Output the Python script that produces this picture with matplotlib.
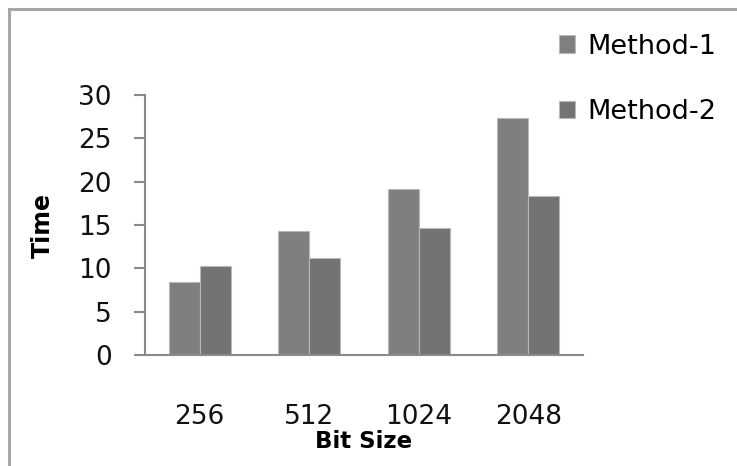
import numpy as np
import matplotlib.pyplot as plt
from matplotlib.lines import Line2D

# timing results per key size
bit_sizes = ["256", "512", "1024", "2048"]
method_1 = [8.4, 14.3, 19.2, 27.3]
method_2 = [10.3, 11.2, 14.6, 18.3]
series_names = ["Method-1", "Method-2"]

W, H = 737, 466
plt.rcParams['font.family'] = ['DejaVu Sans']

fig = plt.figure(figsize=(W / 100, H / 100), dpi=100)
ax = fig.add_axes([145 / W, (H - 355) / H, (583 - 145) / W, (355 - 95) / H])

x = np.arange(len(bit_sizes))
bw = 0.285
ax.bar(x - bw / 2, method_1, bw, color='#7f7f7f', edgecolor='#b8b8b8',
       linewidth=0.8, label=series_names[0])
ax.bar(x + bw / 2, method_2, bw, color='#737373', edgecolor='#b8b8b8',
       linewidth=0.8, label=series_names[1])

ax.set_xlim(-0.5, len(bit_sizes) - 0.5)
ax.set_ylim(0, 30)
ax.set_yticks(range(0, 31, 5))
ax.set_xticks(x)
ax.set_xticklabels(bit_sizes)

for s in ['top', 'right']:
    ax.spines[s].set_visible(False)
for s in ['left', 'bottom']:
    ax.spines[s].set_color('#8a8a8a')
    ax.spines[s].set_linewidth(1.5)

ax.tick_params(axis='y', length=8, width=1.5, color='#8a8a8a', pad=16,
               labelsize=19, labelcolor='#111111')
ax.tick_params(axis='x', length=0, pad=35, labelsize=19, labelcolor='#111111')

ax.set_ylabel("Time", fontsize=17, fontweight='bold', labelpad=17)
ax.set_xlabel("Bit Size", fontsize=16.5, fontweight='bold', labelpad=0)

ax.legend(loc='upper left', bbox_to_anchor=(545 / W, 1 - 20 / H),
          bbox_transform=fig.transFigure, frameon=False, fontsize=19.5,
          handlelength=0.6, handleheight=0.6, handletextpad=0.45,
          labelspacing=1.45, borderpad=0)

# outer chart border (left and top edges only show)
border = dict(color='#a6a6a6', linewidth=2.2, transform=fig.transFigure)
fig.add_artist(Line2D([9 / W, 9 / W], [0, 1 - 9 / H], **border))
fig.add_artist(Line2D([9 / W, 1], [1 - 9 / H, 1 - 9 / H], **border))

fig.savefig("out.png", dpi=100)
